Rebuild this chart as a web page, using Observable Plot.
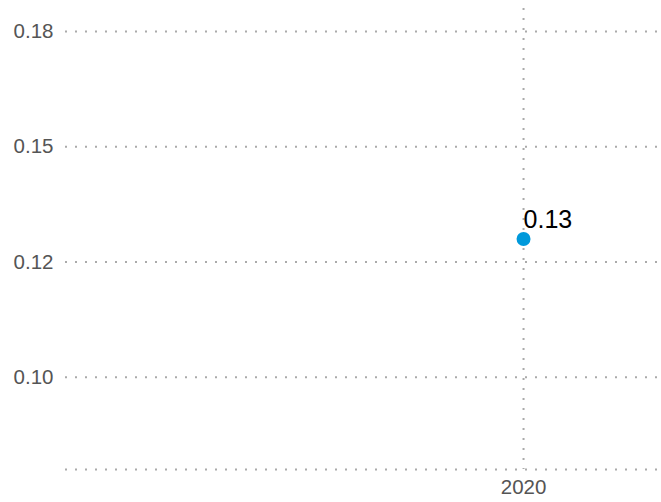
<!DOCTYPE html>
<html>
<head>
<meta charset="utf-8">
<script src="https://cdn.jsdelivr.net/npm/d3@7"></script>
<script src="https://cdn.jsdelivr.net/npm/@observablehq/plot@0.6"></script>
<style>
  html, body { margin: 0; padding: 0; background: #fff; }
  #chart svg { display: block; }
</style>
</head>
<body>
<div id="chart"></div>
<script>
// Data
const years = [2020];
const values = [0.13];
const valueLabels = ["0.13"];

// Axis ticks and their labels as shown
const yTicks = [0.1, 0.125, 0.15, 0.175];
const yTickLabels = ["0.10", "0.12", "0.15", "0.18"];
const xTicks = [2020];
const xTickLabels = ["2020"];
const yDomain = [0.08, 0.18];
const xDomain = [2016.68, 2021];

const data = years.map((y, i) => ({year: y, value: values[i], label: valueLabels[i]}));

const gridColor = "#aaaaaa";
const dash = "2,8";

const chart = Plot.plot({
  width: 661,
  height: 502,
  marginLeft: 65,
  marginRight: 0,
  marginTop: 8,
  marginBottom: 33,
  style: {fontFamily: "'Liberation Sans', Arial, sans-serif", background: "#fff"},
  x: {domain: xDomain, axis: null},
  y: {domain: yDomain, axis: null},
  marks: [
    Plot.gridY(yTicks, {stroke: gridColor, strokeOpacity: 1, strokeWidth: 2, strokeDasharray: dash}),
    Plot.ruleY([yDomain[0]], {stroke: gridColor, strokeWidth: 2, strokeDasharray: dash}),
    Plot.gridX(xTicks, {stroke: gridColor, strokeOpacity: 1, strokeWidth: 2, strokeDasharray: dash}),
    Plot.axisY(yTicks, {
      tickSize: 0, tickPadding: 12, fontSize: 20.5, fill: "#555",
      tickFormat: (d) => yTickLabels[yTicks.indexOf(d)], label: null
    }),
    Plot.axisX(xTicks, {
      tickSize: 0, tickPadding: 10, fontSize: 20.5, fill: "#555",
      tickFormat: (d) => xTickLabels[xTicks.indexOf(d)], label: null
    }),
    Plot.dot(data, {x: "year", y: "value", r: 7, fill: "#0099db", stroke: "none"}),
    Plot.text(data, {x: "year", y: "value", text: "label", textAnchor: "start", lineAnchor: "bottom", dy: -11, fontSize: 25, fill: "#000"})
  ]
});
document.getElementById("chart").appendChild(chart);
</script>
</body>
</html>
